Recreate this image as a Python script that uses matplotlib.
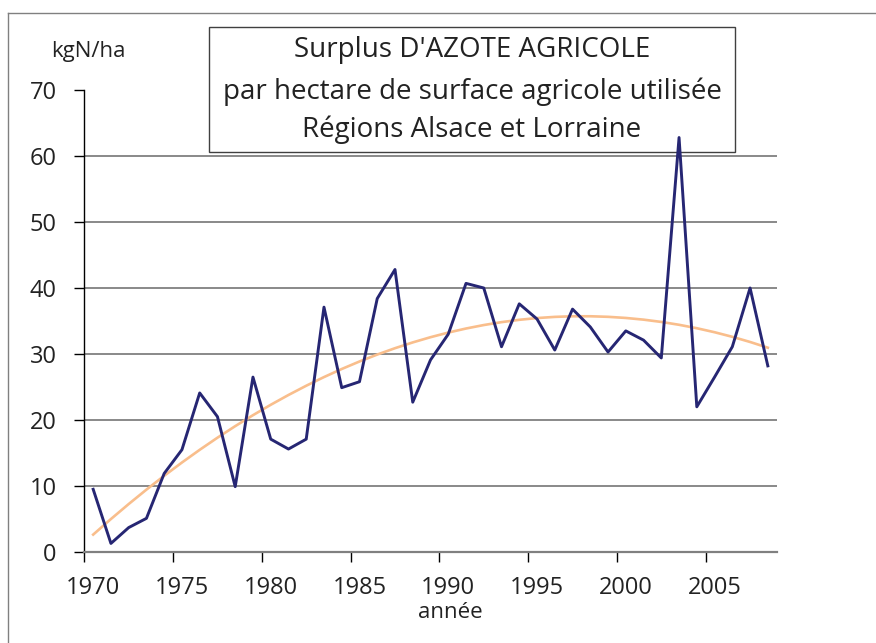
import numpy as np
import matplotlib
matplotlib.use("Agg")
import matplotlib.pyplot as plt
from matplotlib.patches import Rectangle
from matplotlib.lines import Line2D

plt.rcParams['font.family'] = ['Open Sans', 'DejaVu Sans']

W, H = 876, 643

years = list(range(1970, 2009))
surplus = [9.5, 1.3, 3.7, 5.1, 11.9, 15.5, 24.1, 20.5, 9.9, 26.5,
           17.1, 15.6, 17.1, 37.1, 24.9, 25.8, 38.4, 42.8, 22.7, 29.1,
           33.0, 40.7, 40.0, 31.1, 37.6, 35.3, 30.6, 36.8, 34.1, 30.3,
           33.5, 32.1, 29.4, 62.8, 22.0, 26.5, 31.1, 40.0, 28.2]
label_years = [1970, 1975, 1980, 1985, 1990, 1995, 2000, 2005]
y_ticks = [0, 10, 20, 30, 40, 50, 60, 70]
title_lines = ["Surplus D'AZOTE AGRICOLE",
               "par hectare de surface agricole utilisée",
               "Régions Alsace et Lorraine"]

# degree 2 trend line, as in the spreadsheet
coef = np.polyfit(years, surplus, 2)
trend = np.polyval(coef, years)

fig = plt.figure(figsize=(W / 100, H / 100), dpi=100)
ax = fig.add_axes([84.3 / W, 1 - 552 / H, (776.7 - 84.3) / W, (552 - 90) / H])

ax.set_xlim(1969.5, 2008.5)
ax.set_ylim(0, 70)

ax.plot(years, trend, color='#F9BE8C', lw=1.9, zorder=3, clip_on=False)
ax.plot(years, surplus, color='#262673', lw=2.1, zorder=4, clip_on=False)

# ticks between categories, labels on categories
ax.set_xticks([y - 0.5 for y in label_years])
ax.set_xticklabels([])
ax.set_xticks(label_years, minor=True)
ax.set_xticklabels([str(y) for y in label_years], minor=True)
ax.tick_params(axis='x', which='major', direction='out', length=7, width=1, color='black')
ax.tick_params(axis='x', which='minor', length=0, pad=17, labelsize=17, labelcolor='#222222')

ax.set_yticks(y_ticks)
ax.set_yticklabels([str(v) for v in y_ticks])
ax.tick_params(axis='y', direction='out', length=7, width=1, color='black', pad=13,
               labelsize=17, labelcolor='#222222')

ax.yaxis.grid(True, color='#6a6a6a', lw=1.1)
gl = ax.get_ygridlines()
gl[0].set_visible(False)
gl[-1].set_visible(False)
ax.set_axisbelow(True)

for s in ['top', 'right']:
    ax.spines[s].set_visible(False)
ax.spines['left'].set_color('black')
ax.spines['left'].set_linewidth(1)
ax.spines['bottom'].set_color('#808080')
ax.spines['bottom'].set_linewidth(1.6)

# outer frame (top and left edges visible)
fig.add_artist(Line2D([8.3 / W, 1], [1 - 12.5 / H, 1 - 12.5 / H], color='#808080', lw=1))
fig.add_artist(Line2D([8.3 / W, 8.3 / W], [0, 1 - 12.5 / H], color='#808080', lw=1))

# title box
box = Rectangle((209.3 / W, 1 - 151.7 / H), (734.7 - 209.3) / W, (151.7 - 26.7) / H,
                transform=fig.transFigure, facecolor='white', edgecolor='#404040',
                lw=1, zorder=1, clip_on=False)
ax.add_patch(box)
for txt, yc in zip(title_lines, [50, 92, 130]):
    fig.text(472 / W, 1 - yc / H, txt, ha='center', va='center', fontsize=20, color='#222222')

fig.text(51 / W, 1 - 57 / H, 'kgN/ha', ha='left', va='baseline', fontsize=16, color='#222222')
fig.text(450.5 / W, 1 - 618 / H, 'année', ha='center', va='baseline', fontsize=16, color='#222222')

fig.savefig('out.png', dpi=100)
